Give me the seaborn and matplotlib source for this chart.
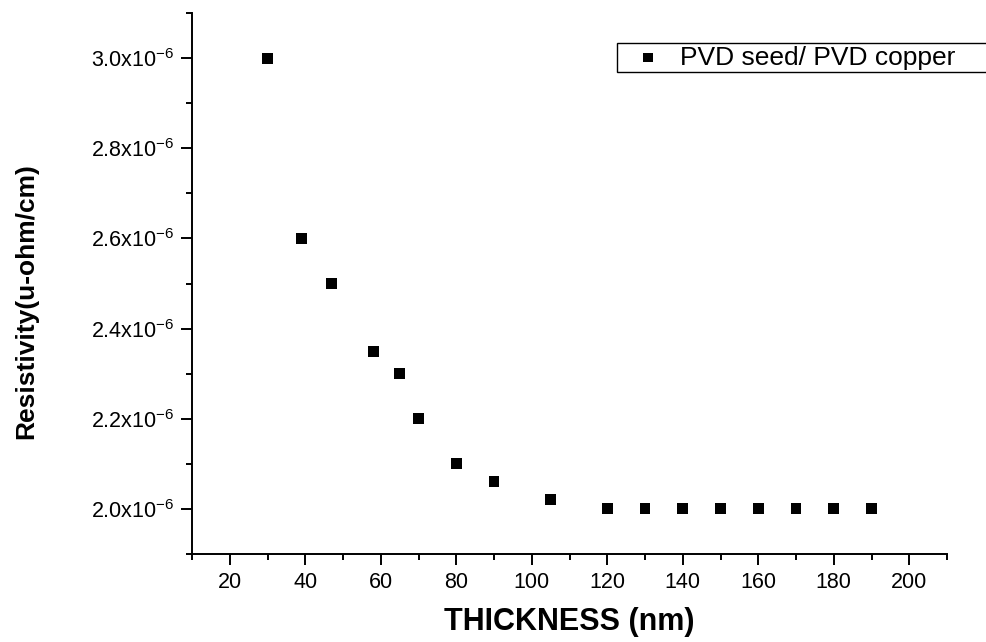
import numpy as np
import pandas as pd
import matplotlib
matplotlib.use("Agg")
import matplotlib.pyplot as plt
from matplotlib.ticker import MultipleLocator, FuncFormatter
import seaborn as sns

# data
thickness_nm = [30, 39, 47, 58, 65, 70, 80, 90, 105, 120, 130, 140, 150, 160, 170, 180, 190]
resistivity = [3.00e-6, 2.60e-6, 2.50e-6, 2.35e-6, 2.30e-6, 2.20e-6, 2.10e-6, 2.06e-6, 2.02e-6,
               2.00e-6, 2.00e-6, 2.00e-6, 2.00e-6, 2.00e-6, 2.00e-6, 2.00e-6, 2.00e-6]
series_name = 'PVD seed/ PVD copper'
x_label = 'THICKNESS (nm)'
y_label = 'Resistivity(u-ohm/cm)'

sns.set_style('ticks', {'axes.edgecolor': 'black', 'text.color': 'black',
                        'axes.labelcolor': 'black', 'xtick.color': 'black', 'ytick.color': 'black'})
plt.rcParams['font.family'] = ['Liberation Sans', 'DejaVu Sans']
plt.rcParams['mathtext.fontset'] = 'custom'
plt.rcParams['mathtext.rm'] = 'Liberation Sans'
plt.rcParams['mathtext.it'] = 'Liberation Sans:italic'
plt.rcParams['mathtext.bf'] = 'Liberation Sans:bold'

df = pd.DataFrame({'thickness': thickness_nm, 'resistivity': resistivity})

fig = plt.figure(figsize=(9.87, 6.42), dpi=100)
ax = fig.add_axes([192 / 987, 88 / 642, 755 / 987, 541 / 642])

sns.scatterplot(data=df, x='thickness', y='resistivity', marker='s', color='black',
                s=62, edgecolor='none', label=series_name, ax=ax)

ax.set_xlim(10, 210)
ax.set_ylim(1.9e-6, 3.1e-6)
ax.xaxis.set_major_locator(MultipleLocator(20))
ax.xaxis.set_minor_locator(MultipleLocator(10))
ax.yaxis.set_major_locator(MultipleLocator(2e-7))
ax.yaxis.set_minor_locator(MultipleLocator(1e-7))
ax.yaxis.set_major_formatter(FuncFormatter(lambda v, p: r'$\mathregular{%.1fx10^{-6}}$' % (v * 1e6)))

sns.despine(ax=ax)
for side in ['left', 'bottom']:
    ax.spines[side].set_linewidth(1.4)
ax.tick_params(which='major', direction='out', length=8, width=1.4, labelsize=15.5, pad=5,
               colors='black')
ax.tick_params(which='minor', direction='out', length=4, width=1.4, colors='black')

ax.set_xlabel(x_label, fontsize=22, fontweight='bold', color='black')
ax.set_ylabel(y_label, fontsize=19, fontweight='bold', color='black')
ax.xaxis.set_label_coords(0.5, -0.098)
ax.yaxis.set_label_coords(-0.204, 0.468)

leg = ax.legend(loc='upper left', bbox_to_anchor=(617 / 987, 0.5, 0.4, 0.5 - 43 / 642),
                bbox_transform=fig.transFigure, mode='expand', fontsize=19,
                frameon=True, fancybox=False, framealpha=1, edgecolor='black',
                borderpad=0.1, handlelength=2.15, handletextpad=0.15, markerscale=0.85,
                borderaxespad=0)
leg.get_frame().set_linewidth(1.0)
for txt in leg.get_texts():
    txt.set_color('black')

fig.savefig('out.png', dpi=100)
